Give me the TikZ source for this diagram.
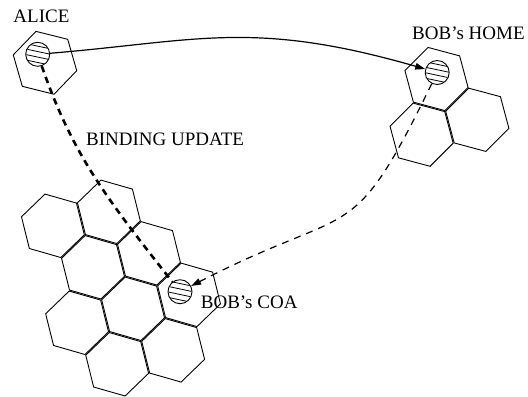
\documentclass[tikz,border=0pt]{standalone}
\usepackage{fontspec}
\setmainfont{Liberation Serif}
\usetikzlibrary{arrows.meta}
\def\hexr{32.7}
\newcommand\hexcell[2]{\draw[cell, shift={(#1)}] (#2:\hexr) -- (#2+60:\hexr) -- (#2+120:\hexr) -- (#2+180:\hexr) -- (#2+240:\hexr) -- (#2+300:\hexr) -- cycle;}
\newcommand\hatchhole[1]{\begin{scope}[shift={(#1.center)}, rotate=-12]
  \clip (0,0) circle (11.6);
  \foreach \d in {-8,-2.7,2.7,8}{\draw[hatchline] (-14,\d) -- (14,\d);}
\end{scope}}
\tikzset{
  cell/.style={draw, line width=0.9bp, line join=miter},
  hole/.style={circle, draw, fill=white, minimum size=24bp, inner sep=0pt, line width=0.9bp},
  hatchline/.style={line width=0.8bp},
  solidlink/.style={line width=1.2bp, -{Triangle[length=10bp,width=6.5bp]}},
  bulink/.style={line width=2.6bp, dash pattern=on 6.5bp off 5bp},
  movelink/.style={line width=1.2bp, dash pattern=on 7bp off 6bp, -{Triangle[length=10bp,width=6.5bp]}},
  lbl/.style={inner sep=0pt, anchor=base west, font=\fontsize{19bp}{22bp}\selectfont}
}
\begin{document}
\begin{tikzpicture}[x=1bp, y=-1bp]
\useasboundingbox (0,0) rectangle (528,396);
% Alice cell
\hexcell{45,62.8}{14}
% Bob's home cluster
\hexcell{436.5,79}{15}
\hexcell{477.3,119.8}{15}
\hexcell{421.6,134.7}{15}
% big cluster
\hexcell{108.9,211.83}{16}
\hexcell{52.91,225.79}{16}
\hexcell{148.98,253.34}{16}
\hexcell{189.06,294.85}{16}
\hexcell{93,267.3}{16}
\hexcell{133.08,308.81}{16}
\hexcell{77.09,322.77}{16}
\hexcell{173.16,350.32}{16}
\hexcell{117.17,364.28}{16}
% mobile hosts
\node[hole] (alice) at (37.7,54.3) {};
\node[hole] (home) at (437.2,72.5) {};
\node[hole] (coa) at (180,291.7) {};
\hatchhole{alice}
\hatchhole{home}
\hatchhole{coa}
% connectors
\draw[solidlink] (alice) .. controls (198.4,40.9) and (252.9,19.4) .. (home);
\draw[bulink] (alice) .. controls (72.9,155.8) and (107.1,198.8) .. (coa);
\draw[movelink] (home) .. controls (350,251) and (356,201) .. (coa);
% labels
\node[lbl] (lalice) at (13.3,22.7) {ALICE};
\node[lbl] (lhome) at (412,39.3) {BOB's HOME};
\node[lbl] (lbind) at (86,145) {BINDING UPDATE};
\node[lbl] (lcoa) at (200.7,308.3) {BOB's COA};
\end{tikzpicture}
\end{document}
